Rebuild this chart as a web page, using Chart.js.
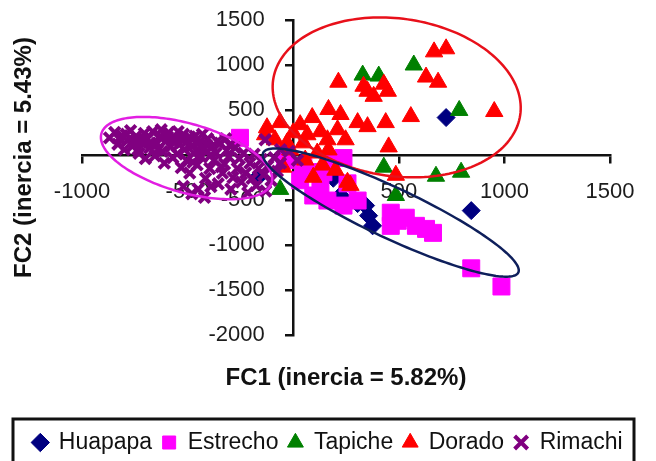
<!DOCTYPE html>
<html>
<head>
<meta charset="utf-8">
<script src="https://cdn.jsdelivr.net/npm/chart.js@4.4.1/dist/chart.umd.min.js"></script>
<style>
  body { margin: 0; background: #fff; }
</style>
</head>
<body>
<canvas id="myChart" width="656" height="461"></canvas>
<script>
const seriesNames = ['Huapapa', 'Estrecho', 'Tapiche', 'Dorado', 'Rimachi'];
const xTicks = [-1000, -500, 0, 500, 1000, 1500];
const yTicks = [-2000, -1500, -1000, -500, 0, 500, 1000, 1500];

// [FC1, FC2] scores per sample
const huapapa = [
    [724, 416], [843, -618], [343, -562], [357, -674], [376, -787],
    [-167, -247], [43, -79], [190, -259], [305, -540], [224, -450]
];
const estrecho = [
    [-252, 191], [238, -34], [48, -135], [90, -191], [143, -191], [257, -315],
    [95, -450], [162, -506], [238, -562], [305, -506], [462, -641], [495, -731],
    [533, -697], [462, -787], [581, -787], [629, -821], [662, -865], [843, -1259],
    [986, -1461], [129, -337], [33, -281], [-38, -56], [176, -56]
];
const tapiche = [
    [329, 888], [405, 877], [571, 1000], [786, 495], [429, -135],
    [676, -236], [795, -191], [-62, -382], [486, -450]
];
const dorado = [
    [667, 1146], [724, 1180], [629, 866], [686, 809], [214, 809], [333, 764],
    [429, 787], [381, 652], [448, 708], [352, 708], [167, 506], [224, 450],
    [90, 416], [305, 360], [352, 315], [438, 360], [557, 427], [952, 483],
    [452, 90], [486, -225], [271, -337], [-124, 303], [-62, 360], [0, 247],
    [129, 259], [162, 169], [48, 135], [-29, 135], [114, 22], [167, 56],
    [-48, -135], [95, -247], [257, -303], [-133, 225], [-86, 169], [33, 337],
    [67, 225], [-14, 56], [57, -56], [138, -112], [210, 281], [248, 169], [200, -169]
];
const rimachi = [
    [-870, 190], [-845, 250], [-830, 120], [-820, 170], [-810, 215], [-800, 60],
    [-790, 230], [-785, 160], [-770, 270], [-760, 100], [-755, 150], [-745, 205],
    [-735, 60], [-730, 20], [-720, 140], [-710, 180], [-705, 240], [-700, -40],
    [-690, 180], [-680, 80], [-675, 130], [-665, 260], [-655, -10], [-645, 130],
    [-640, 60], [-630, 210], [-625, 280], [-620, 40], [-610, -90], [-600, 160],
    [-595, 200], [-590, 250], [-580, 90], [-570, -30], [-565, 140], [-560, 190],
    [-550, 10], [-545, 260], [-540, 120], [-530, -140], [-525, 170], [-520, 230],
    [-515, 60], [-505, -60], [-500, 160], [-490, -200], [-490, 200], [-480, 100],
    [-475, -80], [-470, 20], [-465, 210], [-455, -110], [-450, 60], [-445, 140],
    [-435, -20], [-430, 230], [-425, 60], [-415, -260], [-410, 110], [-405, 180],
    [-395, -150], [-390, 0], [-385, 90], [-375, -60], [-365, 20], [-360, 150],
    [-355, -320], [-345, 130], [-340, -130], [-335, -200], [-325, -100], [-320, 180],
    [-315, 50], [-305, -20], [-300, 110], [-295, -380], [-285, -250], [-275, 80],
    [-265, -150], [-255, -40], [-245, -300], [-235, 20], [-225, -200], [-215, -420],
    [-205, -90], [-195, -260], [-185, 10], [-175, -340], [-165, -150], [-150, -50],
    [-140, -220], [-133, 169], [-130, -400], [-120, -120], [-105, -280], [-90, -30],
    [-75, -180], [-60, 60], [-60, -90], [-20, 40], [20, -60],
    [-520, -350], [-480, -430], [-450, -380], [-420, -470], [-390, -350]
];

// group outlines: centre and two conjugate semi-axes, in FC1/FC2 units
const groupEllipses = [
    { centre: [490, 640], u: [585, -194], v: [-52, -867] },
    { centre: [-505, -34], u: [403, -273], v: [-45, -367] },
    { centre: [462, -640], u: [604, -665], v: [-50, -255] }
];
const ellipseColors = ['#e8101a', '#e21ee2', '#0e1f5b'];

const FONT = 'Liberation Sans, Arial, sans-serif';

function toPoints(arr) {
    return arr.map(p => ({ x: p[0], y: p[1] }));
}

const ellipsePlugin = {
    id: 'groupEllipses',
    afterDatasetsDraw(chart) {
        const { ctx } = chart;
        const xs = chart.scales.x, ys = chart.scales.y;
        ctx.save();
        ctx.lineWidth = 2.5;
        groupEllipses.forEach((e, k) => {
            ctx.beginPath();
            for (let i = 0; i <= 180; i++) {
                const t = i / 180 * Math.PI * 2;
                const vx = e.centre[0] + Math.cos(t) * e.u[0] + Math.sin(t) * e.v[0];
                const vy = e.centre[1] + Math.cos(t) * e.u[1] + Math.sin(t) * e.v[1];
                const px = xs.getPixelForValue(vx);
                const py = ys.getPixelForValue(vy);
                if (i == 0) ctx.moveTo(px, py);
                else ctx.lineTo(px, py);
            }
            ctx.closePath();
            ctx.strokeStyle = ellipseColors[k];
            ctx.stroke();
        });
        ctx.restore();
    }
};

// frame around the legend, like the spreadsheet one
const legendFrame = {
    id: 'legendFrame',
    afterLayout(chart) {
        // pull the vertical title up a bit
        chart.scales.yTitle.top -= 40;
    },
    afterDraw(chart) {
        const l = chart.legend;
        const ctx = chart.ctx;
        ctx.save();
        ctx.lineWidth = 3;
        ctx.strokeStyle = '#111';
        ctx.strokeRect(l.left + 3, l.top - 2, l.width - 15, l.height + 10);
        ctx.restore();
    }
};

const axisGrid = {
    drawOnChartArea: false,
    drawTicks: true,
    tickLength: 7,
    color: '#111',
    lineWidth: 2.5
};

const tickFont = { family: FONT, size: 22 };
const hideZero = v => (v == 0 ? '' : v);
const setYTicks = s => { s.ticks = yTicks.map(v => ({ value: v })); };

const ctx = document.getElementById('myChart');
new Chart(ctx, {
    type: 'scatter',
    data: {
        datasets: [
            {
                label: seriesNames[0], data: toPoints(huapapa), order: 5,
                pointStyle: 'rectRot', pointRadius: 9,
                backgroundColor: '#000080', borderColor: '#000080', borderWidth: 1
            },
            {
                label: seriesNames[1], data: toPoints(estrecho), order: 4,
                pointStyle: 'rect', pointRadius: 12,
                backgroundColor: '#ff00ff', borderColor: '#ff00ff', borderWidth: 1
            },
            {
                label: seriesNames[2], data: toPoints(tapiche), order: 3,
                pointStyle: 'triangle', pointRadius: 10,
                backgroundColor: '#008000', borderColor: '#008000', borderWidth: 1
            },
            {
                label: seriesNames[3], data: toPoints(dorado), order: 2,
                pointStyle: 'triangle', pointRadius: 10,
                backgroundColor: '#ff0000', borderColor: '#ff0000', borderWidth: 1
            },
            {
                label: seriesNames[4], data: toPoints(rimachi), order: 1,
                pointStyle: 'crossRot', pointRadius: 7.5,
                backgroundColor: '#800080', borderColor: '#800080', borderWidth: 4
            }
        ]
    },
    options: {
        responsive: false,
        animation: false,
        events: [],
        layout: { padding: { top: 20, left: 10, right: 10, bottom: -3 } },
        scales: {
            x: {
                type: 'linear',
                position: { y: 0 },
                min: xTicks[0],
                max: xTicks[xTicks.length - 1],
                afterBuildTicks: s => { s.ticks = xTicks.map(v => ({ value: v })); },
                grid: axisGrid,
                border: { display: true, color: '#111', width: 2.5 },
                ticks: {
                    font: tickFont, color: '#1c1c1c', padding: 17,
                    autoSkip: false, maxRotation: 0, callback: hideZero
                }
            },
            y: {
                type: 'linear',
                position: { x: 0 },
                min: yTicks[0],
                max: yTicks[yTicks.length - 1],
                afterBuildTicks: setYTicks,
                grid: axisGrid,
                border: { display: true, color: '#111', width: 2.5 },
                ticks: { display: false }
            },
            // the value labels of FC2 sit a little left of the axis line
            yLab: {
                type: 'linear',
                position: { x: -135 },
                min: yTicks[0],
                max: yTicks[yTicks.length - 1],
                afterBuildTicks: setYTicks,
                grid: { display: false },
                border: { display: false },
                ticks: {
                    font: tickFont, color: '#1c1c1c',
                    autoSkip: false, callback: hideZero
                }
            },
            xTitle: {
                type: 'linear',
                position: 'bottom',
                grid: { display: false },
                border: { display: false },
                ticks: { display: false },
                title: {
                    display: true,
                    text: 'FC1 (inercia = 5.82%)',
                    color: '#111',
                    font: { family: FONT, size: 24, weight: 'bold' },
                    padding: { top: 0, bottom: 28 }
                },
                afterFit: s => { s.height = 86; }
            },
            yTitle: {
                type: 'linear',
                position: 'left',
                grid: { display: false },
                border: { display: false },
                ticks: { display: false },
                title: {
                    display: true,
                    text: 'FC2 (inercia = 5.43%)',
                    color: '#111',
                    font: { family: FONT, size: 24, weight: 'bold' },
                    padding: { top: 0, bottom: 0 }
                },
                afterFit: s => { s.width = 72; }
            },
            yPad: {
                type: 'linear',
                position: 'right',
                grid: { display: false },
                border: { display: false },
                ticks: { display: false },
                afterFit: s => { s.width = 36; }
            }
        },
        plugins: {
            tooltip: { enabled: false },
            legend: {
                position: 'bottom',
                labels: {
                    usePointStyle: true,
                    boxWidth: 14,
                    boxHeight: 13,
                    padding: 10,
                    color: '#111',
                    font: { family: FONT, size: 23 },
                    sort: (a, b) => a.datasetIndex - b.datasetIndex
                }
            }
        }
    },
    plugins: [ellipsePlugin, legendFrame]
});
</script>
</body>
</html>
